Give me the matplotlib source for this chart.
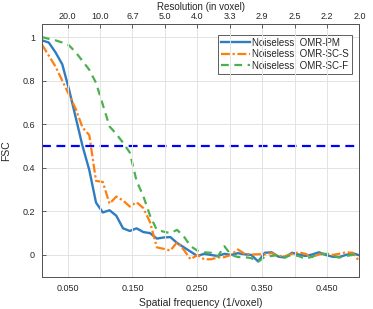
import numpy as np
import matplotlib
matplotlib.use("Agg")
import matplotlib.pyplot as plt

plt.rcParams['font.family'] = ['Liberation Sans', 'DejaVu Sans']

# spatial frequency samples (1/voxel), grid of 96 voxels
freq = np.arange(1, 49) / 96.0

fsc_pm = [0.985, 0.975, 0.93, 0.875, 0.76, 0.63, 0.50, 0.39, 0.24, 0.195,
          0.205, 0.18, 0.122, 0.11, 0.122, 0.105, 0.10, 0.075, 0.08, 0.082,
          0.055, 0.035, 0.015, -0.005, 0.005, 0.0, -0.005, 0.005, 0.0, 0.008,
          0.003, 0.0, -0.03, 0.01, 0.012, -0.008, -0.012, 0.01, 0.002, -0.005,
          0.002, 0.012, 0.0, -0.008, -0.01, 0.0, 0.008, -0.002]

fsc_sc_s = [0.965, 0.915, 0.865, 0.80, 0.735, 0.67, 0.585, 0.55, 0.34, 0.335,
            0.235, 0.268, 0.25, 0.222, 0.242, 0.215, 0.15, 0.035, 0.028, 0.02,
            0.058, 0.023, -0.02, 0.0, -0.02, -0.02, -0.012, -0.01, 0.0, 0.025,
            0.005, 0.002, 0.003, 0.003, 0.008, -0.005, -0.005, 0.005, 0.012, 0.005,
            -0.01, 0.002, 0.008, 0.0, 0.005, 0.012, 0.01, -0.03]

fsc_sc_f = [1.0, 0.992, 0.985, 0.975, 0.962, 0.93, 0.89, 0.85, 0.79, 0.69,
            0.59, 0.555, 0.515, 0.47, 0.34, 0.27, 0.18, 0.115, 0.107, 0.10,
            0.115, 0.085, 0.04, 0.02, 0.012, 0.01, -0.008, 0.04, 0.0, -0.01,
            -0.01, -0.015, -0.032, -0.008, -0.005, 0.0, -0.01, 0.0, -0.005, -0.018,
            -0.008, 0.003, 0.005, -0.002, -0.012, -0.005, 0.0, 0.012]

res_ticks = [0.05, 0.10, 0.15, 0.20, 0.25, 0.30, 0.35, 0.40, 0.45, 0.50]
res_labels = ['20.0', '10.0', '6.7', '5.0', '4.0', '3.3', '2.9', '2.5', '2.2', '2.0']
freq_labels = ['0.050', '', '0.150', '', '0.250', '', '0.350', '', '0.450', '']
fsc_ticks = [0, 0.2, 0.4, 0.6, 0.8, 1]
fsc_labels = ['0', '0.2', '0.4', '0.6', '0.8', '1']

txt = '#262626'
fig = plt.figure(figsize=(3.73, 3.09), dpi=100)
ax = fig.add_axes([0.1126, 0.1045, 0.851, 0.8178])

ax.plot(freq, fsc_pm, color='#2f7dc0', lw=1.7, label='Noiseless: OMR-PM')
ax.plot(freq, fsc_sc_s, color='#ff7f0e', lw=1.6, ls=(0, (4, 1.2, 1, 1.2)),
        label='Noiseless: OMR-SC-S')
ax.plot(freq, fsc_sc_f, color='#4cb050', lw=1.6, ls=(0, (3.5, 2.5)),
        label='Noiseless: OMR-SC-F')
ax.axhline(0.5, color='#0000ff', lw=1.6, ls=(0, (4, 2.5)))

ax.set_xlim(1 / 96.0, 0.5)
ax.set_ylim(-0.1, 1.06)
ax.set_xticks(res_ticks)
ax.set_xticklabels(freq_labels)
ax.set_yticks(fsc_ticks)
ax.set_yticklabels(fsc_labels)
ax.tick_params(direction='in', length=3, labelsize=6.5, colors='#444444',
               labelcolor=txt, width=0.6, pad=5)
ax.set_xlabel('Spatial frequency (1/voxel)', fontsize=7.5, color=txt, labelpad=4)
ax.set_ylabel('FSC', fontsize=7.5, color=txt, labelpad=8)
for s in ax.spines.values():
    s.set_color('#555555')
    s.set_linewidth(0.7)

ax2 = ax.twiny()
ax2.set_xlim(ax.get_xlim())
ax2.set_xticks(res_ticks)
ax2.set_xticklabels(res_labels)
ax2.tick_params(direction='in', length=3, labelsize=6.5, colors='#444444',
                labelcolor=txt, width=0.6, pad=2.5)
ax2.set_xlabel('Resolution (in voxel)', fontsize=7, color=txt, labelpad=1)
ax2.grid(True, color='#e3e3e3', lw=0.7)
ax.grid(True, axis='y', color='#e3e3e3', lw=0.7)
ax.set_axisbelow(True)
ax2.set_axisbelow(True)
for s in ax2.spines.values():
    s.set_color('#555555')
    s.set_linewidth(0.7)

leg = ax.legend(loc='upper right', bbox_to_anchor=(0.977, 0.957), fontsize=7,
                frameon=True, fancybox=False, handlelength=2.9,
                handletextpad=0.3, borderpad=0.3, labelspacing=0.15,
                borderaxespad=0.0)
leg.get_frame().set_edgecolor('#333333')
leg.get_frame().set_linewidth(0.7)
for t in leg.get_texts():
    t.set_color(txt)

fig.savefig('out.png', dpi=100)
